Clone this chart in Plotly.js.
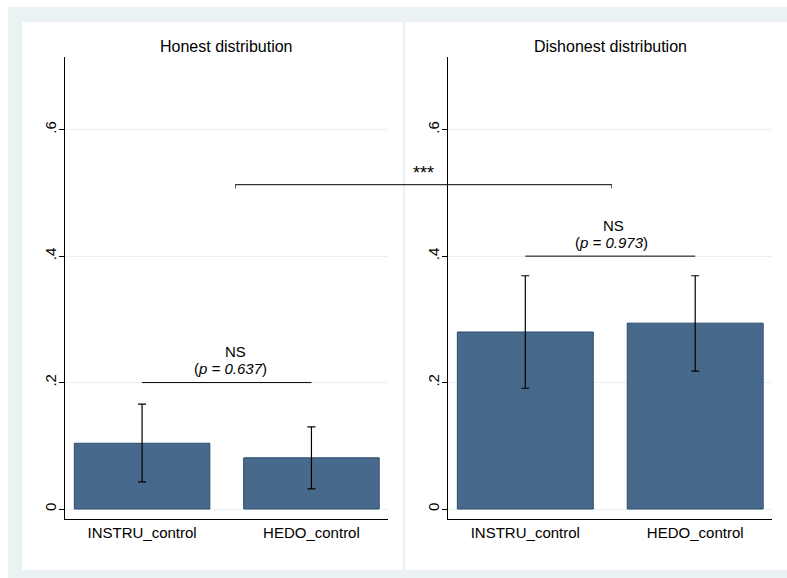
<!DOCTYPE html>
<html>
<head>
<meta charset="utf-8">
<script src="https://cdn.plot.ly/plotly-3.0.1.min.js"></script>
<style>html,body{margin:0;padding:0;background:#fff;}#chart{width:787px;height:578px;}</style>
</head>
<body>
<div id="chart"></div>
<script>
// ---- data ----
const categories = ["INSTRU_control", "HEDO_control"];
const honestMean = [0.104, 0.081];
const honestUpper = [0.166, 0.130];
const honestLower = [0.043, 0.032];
const dishonestMean = [0.280, 0.294];
const dishonestUpper = [0.369, 0.369];
const dishonestLower = [0.191, 0.218];
const panelTitles = ["Honest distribution", "Dishonest distribution"];
const yTickVals = [0, 0.2, 0.4, 0.6];
const yTickText = ["0", ".2", ".4", ".6"];
const honestTest = {ns: "NS", p: "0.637", lineY: 0.2};
const dishonestTest = {ns: "NS", p: "0.973", lineY: 0.4};
const crossTest = {label: "***", lineY: 0.513};

// ---- helpers ----
const W = 787, H = 578;
const px = x => x / W;
const py = y => 1 - y / H;
const FONT = "Liberation Sans, Arial, Helvetica, sans-serif";
const barColor = "#476a8c";
const barLine = "#2d4c6e";

function barTrace(means, upper, lower, xa, ya) {
  return {
    type: "bar", x: categories, y: means, xaxis: xa, yaxis: ya,
    width: 0.8,
    marker: {color: barColor, line: {color: barLine, width: 1}},
    error_y: {
      type: "data", symmetric: false,
      array: upper.map((u, i) => u - means[i]),
      arrayminus: means.map((m, i) => m - lower[i]),
      color: "#000", thickness: 1.2, width: 4
    },
    hoverinfo: "none", showlegend: false
  };
}

const data = [
  barTrace(honestMean, honestUpper, honestLower, "x", "y"),
  barTrace(dishonestMean, dishonestUpper, dishonestLower, "x2", "y2")
];

const yRange = [-0.0158, 0.715];
const xRange = [-0.455, 1.452];
const yCommon = {
  range: yRange, tickvals: yTickVals, ticktext: yTickText, tickangle: -90,
  ticks: "outside", ticklen: 5, tickcolor: "#000", tickwidth: 1,
  ticklabelstandoff: -3,
  showline: true, linecolor: "#000", linewidth: 1,
  showgrid: true, gridcolor: "#e8f0f2", gridwidth: 1, zeroline: false,
  tickfont: {family: FONT, size: 15, color: "#000"}, fixedrange: true
};
const xCommon = {
  type: "category", range: xRange, ticks: "", showline: true, linecolor: "#000", linewidth: 1,
  showgrid: false, zeroline: false,
  tickfont: {family: FONT, size: 15, color: "#000"}, fixedrange: true
};

const yDom = [py(519), py(57)];
const layout = {
  width: W, height: H,
  margin: {l: 0, r: 0, t: 0, b: 0},
  paper_bgcolor: "#ffffff",
  plot_bgcolor: "rgba(0,0,0,0)",
  showlegend: false,
  bargap: 0.2,
  xaxis: Object.assign({}, xCommon, {domain: [px(65), px(388)], anchor: "y"}),
  yaxis: Object.assign({}, yCommon, {domain: yDom, anchor: "x"}),
  xaxis2: Object.assign({}, xCommon, {domain: [px(448), px(772)], anchor: "y2"}),
  yaxis2: Object.assign({}, yCommon, {domain: yDom, anchor: "x2"}),
  shapes: [
    // outer light frame
    {type: "rect", xref: "paper", yref: "paper", x0: px(8), x1: 1, y0: 0, y1: py(7),
     fillcolor: "#eaf2f3", line: {width: 0}, layer: "below"},
    // panels
    {type: "rect", xref: "paper", yref: "paper", x0: px(22), x1: px(403), y0: py(570), y1: py(22),
     fillcolor: "#ffffff", line: {width: 0}, layer: "below"},
    {type: "rect", xref: "paper", yref: "paper", x0: px(405), x1: 1, y0: py(570), y1: py(22),
     fillcolor: "#ffffff", line: {width: 0}, layer: "below"},
    // NS brackets
    {type: "line", xref: "x", yref: "y", x0: 0, x1: 1, y0: honestTest.lineY, y1: honestTest.lineY,
     line: {color: "#000", width: 1}},
    {type: "line", xref: "x2", yref: "y2", x0: 0, x1: 1, y0: dishonestTest.lineY, y1: dishonestTest.lineY,
     line: {color: "#000", width: 1}},
    // cross-panel bracket
    {type: "line", xref: "paper", yref: "y", x0: px(235), x1: px(612), y0: crossTest.lineY, y1: crossTest.lineY,
     line: {color: "#000", width: 1}},
    {type: "line", xref: "paper", yref: "y", x0: px(235.5), x1: px(235.5), y0: crossTest.lineY, y1: crossTest.lineY - 0.006,
     line: {color: "#666", width: 1}},
    {type: "line", xref: "paper", yref: "y", x0: px(611.5), x1: px(611.5), y0: crossTest.lineY, y1: crossTest.lineY - 0.006,
     line: {color: "#666", width: 1}}
  ],
  annotations: [
    {text: panelTitles[0], xref: "paper", yref: "paper", x: px(226), y: py(46), xanchor: "center", yanchor: "middle",
     showarrow: false, font: {family: FONT, size: 16, color: "#000"}},
    {text: panelTitles[1], xref: "paper", yref: "paper", x: px(610), y: py(46), xanchor: "center", yanchor: "middle",
     showarrow: false, font: {family: FONT, size: 16, color: "#000"}},
    {text: honestTest.ns, xref: "x", yref: "y", x: 0.55, y: honestTest.lineY + 0.049, showarrow: false,
     xanchor: "center", yanchor: "middle", font: {family: FONT, size: 15, color: "#000"}},
    {text: "(<i>p = " + honestTest.p + "</i>)", xref: "x", yref: "y", x: 0.52, y: honestTest.lineY + 0.022, showarrow: false,
     xanchor: "center", yanchor: "middle", font: {family: FONT, size: 15, color: "#000"}},
    {text: dishonestTest.ns, xref: "x2", yref: "y2", x: 0.52, y: dishonestTest.lineY + 0.049, showarrow: false,
     xanchor: "center", yanchor: "middle", font: {family: FONT, size: 15, color: "#000"}},
    {text: "(<i>p = " + dishonestTest.p + "</i>)", xref: "x2", yref: "y2", x: 0.51, y: dishonestTest.lineY + 0.022, showarrow: false,
     xanchor: "center", yanchor: "middle", font: {family: FONT, size: 15, color: "#000"}},
    {text: crossTest.label, xref: "paper", yref: "y", x: px(423), y: 0.532, showarrow: false,
     xanchor: "center", yanchor: "middle", font: {family: FONT, size: 18, color: "#000"}}
  ]
};

Plotly.newPlot("chart", data, layout, {displayModeBar: false, staticPlot: true});
</script>
</body>
</html>
